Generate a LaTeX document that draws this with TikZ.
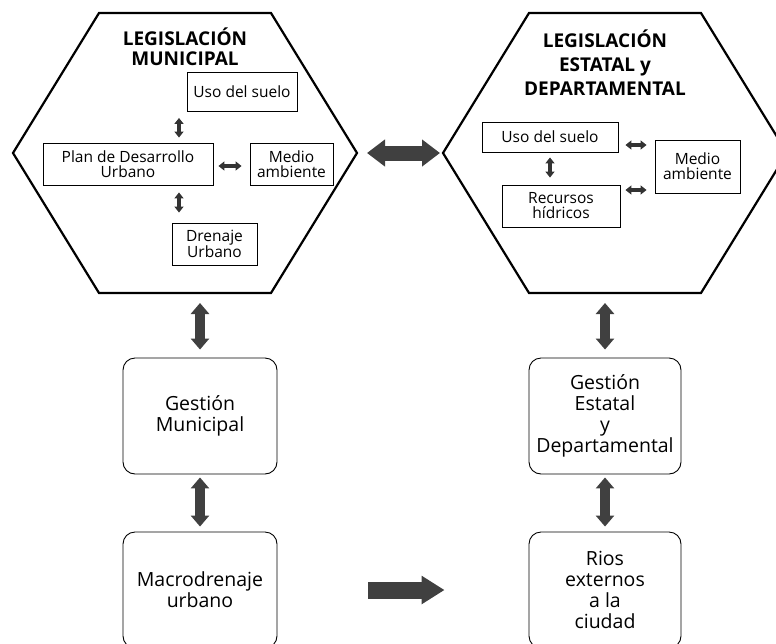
\documentclass[tikz,border=0pt]{standalone}
\usepackage{fontspec}
\setmainfont{Open Sans}
\usetikzlibrary{arrows.meta}

\begin{document}
\begin{tikzpicture}[x=1pt,y=-1pt,
	hexline/.style={line width=2.2pt},
	title/.style={font=\fontsize{19}{20}\selectfont\bfseries, align=center},
	inbox/.style={draw, line width=0.9pt, align=center, inner sep=0pt, font=\fontsize{15.5}{15}\selectfont},
	gbox/.style={draw, line width=0.9pt, rounded corners=12pt, align=center, minimum width=154pt, minimum height=116pt, font=\fontsize{19.5}{21}\selectfont},
	smallarr/.style={draw=black!80, line width=4pt, {Triangle[width=9pt,length=6pt]}-{Triangle[width=9pt,length=6pt]}},
	bigarr/.style={draw=black!75, line width=10pt, {Triangle[width=18pt,length=11pt]}-{Triangle[width=18pt,length=11pt]}},
	widearr/.style={draw=black!75, line width=15pt, {Triangle[width=26pt,length=18pt]}-{Triangle[width=26pt,length=18pt]}},
	fwdarr/.style={draw=black!75, line width=17pt, -{Triangle[width=27pt,length=23pt]}}
	]
	\useasboundingbox (0,0) rectangle (776,643);
	
	% hexagons
	\draw[hexline] (13,153) coordinate (hexLw) -- (99,13) -- (271,13) -- (357,153) coordinate (hexLe) -- (271,293) -- (99,293) -- cycle;
	\draw[hexline] (443,153) coordinate (hexRw) -- (529,13) -- (701,13) -- (787,153) -- (701,293) -- (529,293) -- cycle;
	\coordinate (hexLs) at (185,293);
	\coordinate (hexRs) at (615,293);
	
	% municipal side
	\node (titleL) [title] at (185,47) {LEGISLACIÓN\\MUNICIPAL};
	\node (usoL) [inbox, minimum width=110pt, minimum height=39pt] at (242,92) {Uso del suelo};
	\node (planL) [inbox, minimum width=170pt, minimum height=42pt] at (128,164) {Plan de Desarrollo\\Urbano};
	\node (medioL) [inbox, minimum width=83pt, minimum height=42pt] at (291.5,164) {Medio\\ambiente};
	\node (drenL) [inbox, minimum width=85pt, minimum height=42pt] at (214.5,244) {Drenaje\\Urbano};
	
	% state side
	\node (titleR) [title] at (605,63) {LEGISLACIÓN\\[4pt]ESTATAL y\\[4pt]DEPARTAMENTAL};
	\node (usoR) [inbox, minimum width=136pt, minimum height=30pt] at (550,137) {Uso del suelo};
	\node (recR) [inbox, minimum width=118pt, minimum height=42pt] at (561,206) {Recursos\\hídricos};
	\node (medioR) [inbox, minimum width=85pt, minimum height=53pt] at (697.5,166.5) {Medio\\ambiente};
	
	% management and drainage
	\node (gestM) [gbox] at (200,416) {Gestión\\Municipal};
	\node (macroM) [gbox] at (200,590) {Macrodrenaje\\urbano};
	\node (gestE) [gbox, minimum width=152pt] at (605,416) {Gestión\\Estatal\\y\\Departamental};
	\node (rios) [gbox, minimum width=152pt] at (605,590) {Rios\\externos\\a la\\ciudad};
	
	\coordinate (axL) at (179,0);
	\coordinate (ayL) at (0,166);
	\coordinate (axR) at (550,0);
	\coordinate (ayR1) at (0,145);
	\coordinate (ayR2) at (0,190);
	
	\draw[smallarr, shorten <=6pt, shorten >=5pt] (usoL.south -| axL) -- (planL.north -| axL);
	\draw[smallarr, shorten <=7pt, shorten >=10pt] (planL.south -| axL) -- (drenL.north -| axL);
	\draw[smallarr, shorten <=5pt, shorten >=8pt] (planL.east |- ayL) -- (medioL.west |- ayL);
	\draw[smallarr, shorten <=5pt, shorten >=7pt] (usoR.south -| axR) -- (recR.north -| axR);
	\draw[smallarr, shorten <=7pt, shorten >=8pt] (usoR.east |- ayR1) -- (medioR.west |- ayR1);
	\draw[smallarr, shorten <=5pt, shorten >=8pt] (recR.east |- ayR2) -- (medioR.west |- ayR2);
	
	\draw[widearr, shorten <=10pt, shorten >=3pt] (hexLe) -- (hexRw);
	\draw[bigarr, shorten <=10pt, shorten >=8pt] (gestM.north |- hexLs) -- (gestM.north);
	\draw[bigarr, shorten <=3pt, shorten >=5pt] (gestM) -- (macroM);
	\draw[bigarr, shorten <=10pt, shorten >=8pt] (gestE.north |- hexRs) -- (gestE.north);
	\draw[bigarr, shorten <=3pt, shorten >=5pt] (gestE) -- (rios);
	\draw[fwdarr, shorten <=91pt, shorten >=84pt] (macroM) -- (rios);
\end{tikzpicture}
\end{document}
